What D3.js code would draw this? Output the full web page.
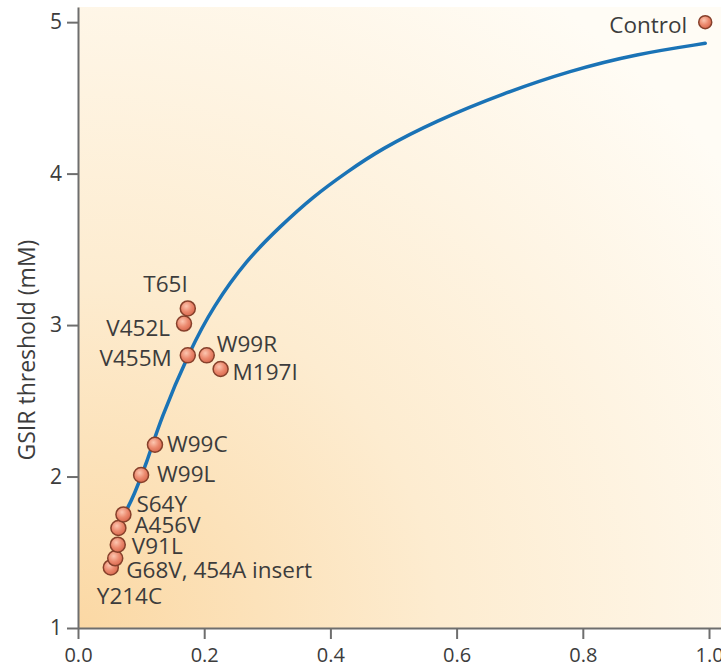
<!DOCTYPE html>
<html>
<head>
<meta charset="utf-8">
<title>GSIR threshold</title>
<script src="https://cdn.jsdelivr.net/npm/d3@7"></script>
<style>
  body { margin: 0; background: #fff; }
  svg text { font-family: "Open Sans", sans-serif; fill: #3c3c3c; }
  .axis path, .axis line { stroke: #6e6e6e; stroke-width: 2; }
</style>
</head>
<body>
<div id="chart"></div>
<script>
// mutants (x = relative activity, y = GSIR threshold in mM)
const mutantNames = ["Control", "T65I", "V452L", "V455M", "W99R", "M197I", "W99C",
                     "W99L", "S64Y", "A456V", "V91L", "G68V, 454A insert", "Y214C"];
const mutantX = [0.994, 0.174, 0.168, 0.174, 0.204, 0.226, 0.122, 0.100, 0.072, 0.064, 0.063, 0.059, 0.052];
const mutantY = [5.00, 3.11, 3.01, 2.80, 2.80, 2.71, 2.21, 2.01, 1.75, 1.66, 1.55, 1.46, 1.40];

// fitted curve
const curveX = [0.077, 0.088, 0.109, 0.130, 0.178, 0.214, 0.267, 0.320, 0.373, 0.426, 0.479, 0.568, 0.674, 0.780, 0.885, 0.994];
const curveY = [1.78, 1.87, 2.09, 2.37, 2.84, 3.12, 3.43, 3.65, 3.85, 4.01, 4.16, 4.35, 4.53, 4.68, 4.79, 4.86];

const xTicks = [0, 0.2, 0.4, 0.6, 0.8, 1.0];
const yTicks = [1, 2, 3, 4, 5];
const yTitle = "GSIR threshold (mM)";

// label placement next to each point: [dx, dy, anchor]
const labelPos = [
  [-18, 11, "end"], [0, -16, "end"], [-14, 12, "end"], [-16, 11, "end"],
  [10, -3, "start"], [12, 11, "start"], [12, 7, "start"], [16, 7, "start"],
  [13, -2, "start"], [16, 5, "start"], [14, 9, "start"], [11, 20, "start"],
  [-14, 37, "start"]
];

const width = 721, height = 668;

const x = d3.scaleLinear().domain([0, 1.019]).range([78, 721]);
const y = d3.scaleLinear().domain([1, 5.1]).range([628, 7]);

const svg = d3.select("#chart").append("svg")
  .attr("width", width)
  .attr("height", height);

const defs = svg.append("defs");

const bg = defs.append("radialGradient")
  .attr("id", "bg")
  .attr("cx", 0).attr("cy", 1).attr("r", 1.25);
bg.append("stop").attr("offset", "0%").attr("stop-color", "#fbd8a4");
bg.append("stop").attr("offset", "45%").attr("stop-color", "#fdecd0");
bg.append("stop").attr("offset", "100%").attr("stop-color", "#fffcf5");

const dot = defs.append("radialGradient")
  .attr("id", "dot")
  .attr("cx", "40%").attr("cy", "35%").attr("r", "65%");
dot.append("stop").attr("offset", "0%").attr("stop-color", "#fcc6b0");
dot.append("stop").attr("offset", "55%").attr("stop-color", "#ec8b70");
dot.append("stop").attr("offset", "100%").attr("stop-color", "#d9694f");

svg.append("rect")
  .attr("x", x(0)).attr("y", y(5.1))
  .attr("width", x(1.019) - x(0))
  .attr("height", y(1) - y(5.1))
  .attr("fill", "url(#bg)");

// axes
svg.append("g")
  .attr("class", "axis")
  .attr("transform", `translate(0,${y(1)})`)
  .call(d3.axisBottom(x).tickValues(xTicks).tickFormat(d3.format(".1f"))
        .tickSize(11).tickSizeOuter(0).tickPadding(9))
  .call(g => g.selectAll("text").attr("font-size", 20).style("fill", "#3c3c3c"));

svg.append("g")
  .attr("class", "axis")
  .attr("transform", `translate(${x(0)},0)`)
  .call(d3.axisLeft(y).tickValues(yTicks).tickFormat(d3.format("d"))
        .tickSize(11).tickSizeOuter(0).tickPadding(5))
  .call(g => g.selectAll("text").attr("font-size", 21).style("fill", "#3c3c3c"));

svg.append("text")
  .attr("transform", `translate(35,${y(3) + 25}) rotate(-90)`)
  .attr("text-anchor", "middle")
  .attr("font-size", 23)
  .text(yTitle);

// curve
const curveData = curveX.map((d, i) => [d, curveY[i]]);
svg.append("path")
  .datum(curveData)
  .attr("fill", "none")
  .attr("stroke", "#1a73b6")
  .attr("stroke-width", 3.5)
  .attr("stroke-linecap", "round")
  .attr("d", d3.line().x(d => x(d[0])).y(d => y(d[1])).curve(d3.curveBasis));

// points and labels
const pts = mutantNames.map((n, i) => ({name: n, x: mutantX[i], y: mutantY[i], pos: labelPos[i]}));

svg.append("g").selectAll("circle")
  .data(pts.slice().reverse())
  .join("circle")
  .attr("cx", d => x(d.x))
  .attr("cy", d => y(d.y))
  .attr("r", d => d.name == "Control" ? 6.5 : 7.5)
  .attr("fill", "url(#dot)")
  .attr("stroke", "#86402b")
  .attr("stroke-width", 1.5);

svg.append("g").selectAll("text")
  .data(pts)
  .join("text")
  .attr("x", d => x(d.x) + d.pos[0])
  .attr("y", d => y(d.y) + d.pos[1])
  .attr("text-anchor", d => d.pos[2])
  .attr("font-size", 22.5)
  .text(d => d.name);
</script>
</body>
</html>
